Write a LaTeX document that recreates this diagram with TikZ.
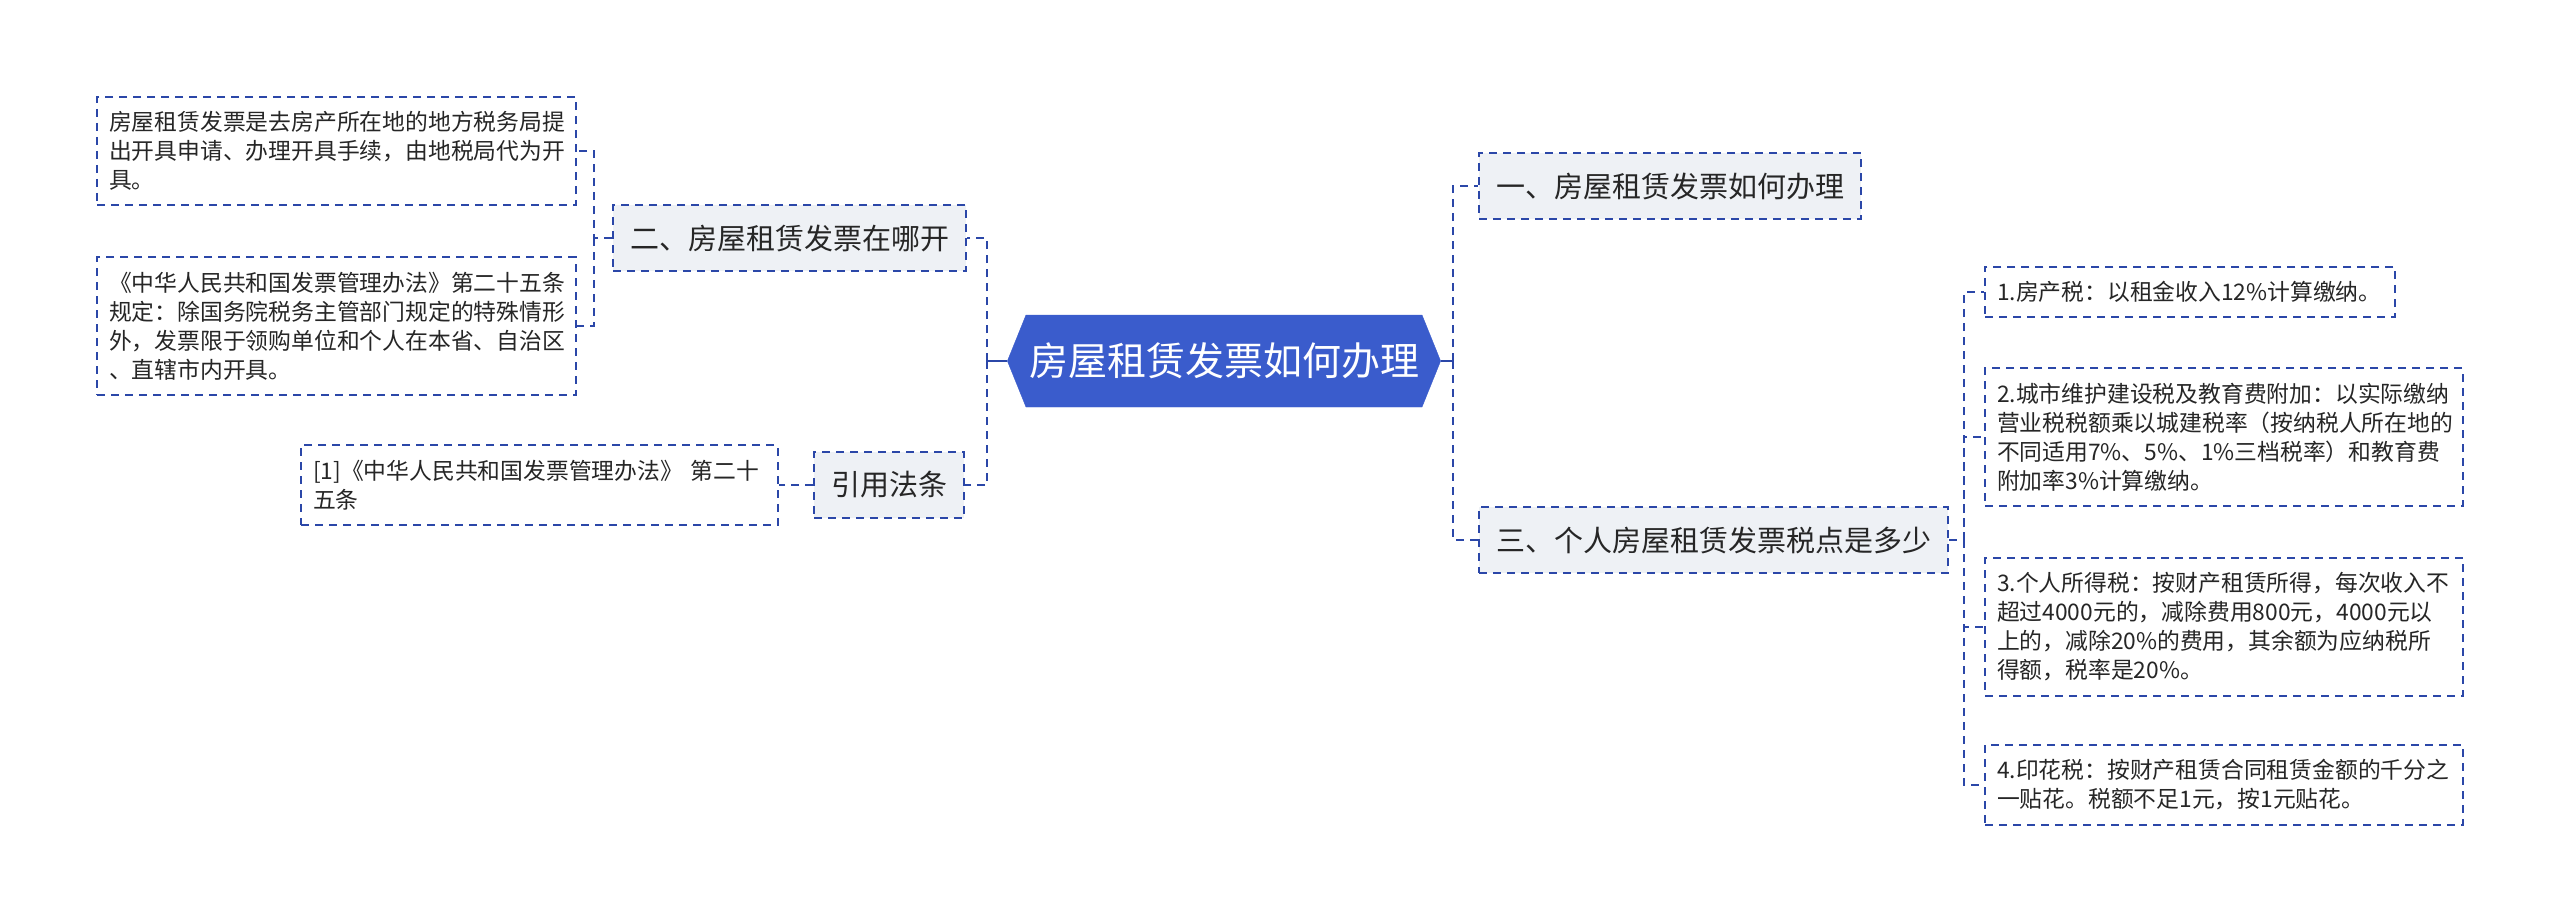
\documentclass[tikz,border=0pt]{standalone}
\usepackage{fontspec}
\setmainfont{Noto Sans CJK SC}
\usepackage{tikz}
\usetikzlibrary{shapes.symbols,positioning,calc}
\definecolor{mmBlue}{HTML}{3A5CCC}
\definecolor{mmLine}{HTML}{2B47A8}
\definecolor{mmGrey}{HTML}{EEF1F5}
\definecolor{mmText}{HTML}{262626}
\tikzset{
  %% dash used everywhere
  mmdash/.style={line width=2pt, dash pattern=on 8pt off 6pt},
  mmRoot/.style={shape=signal, signal to=east and west, signal pointer angle=136,
    draw=mmBlue, fill=mmBlue, minimum height=92pt, inner xsep=3pt,
    font=\fontsize{39}{46}\selectfont, text=white},
  mmTopic/.style={mmdash, draw=mmLine, fill=mmGrey, inner xsep=17pt, inner ysep=19.5pt,
    font=\fontsize{29}{35}\selectfont, text=mmText},
  mmLeaf/.style={mmdash, draw=mmLine, fill=white, inner xsep=12pt, inner ysep=14.5pt,
    font=\fontsize{22.8}{29}\selectfont, align=left, text=mmText},
  %% connectors
  mmlink/.style={mmdash, line width=2.6pt, draw=mmLine},
  mmstub/.style={line width=2.6pt, draw=mmLine},
}
\begin{document}
\begin{tikzpicture}[x=1pt, y=-1pt]
\path[fill=white] (0,0) rectangle (2560,922);
\useasboundingbox (0,0) rectangle (2560,922);

%% Root
\node[mmRoot] (root) at (1224,361) {房屋租赁发票如何办理};

%% Left side
\node[mmTopic, anchor=east] (tWhere) at (967,238) {二、房屋租赁发票在哪开};
\node[mmTopic, anchor=east] (tLaw)   at (965,485) {引用法条};

\node[mmLeaf, anchor=west, text width=455pt] (lWhereA) at (96,151)
  {房屋租赁发票是去房产所在地的地方税务局提\\出开具申请、办理开具手续，由地税局代为开\\具。};
\node[mmLeaf, anchor=west, text width=455pt] (lWhereB) at (96,326)
  {《中华人民共和国发票管理办法》第二十五条\\规定：除国务院税务主管部门规定的特殊情形\\外，发票限于领购单位和个人在本省、自治区\\、直辖市内开具。};
\node[mmLeaf, anchor=west, text width=453pt] (lLaw) at (300,485)
  {[1]《中华人民共和国发票管理办法》 第二十\\五条};

%% Right side
\node[mmTopic, anchor=west] (tHow)  at (1478,186) {一、房屋租赁发票如何办理};
\node[mmTopic, anchor=west] (tRate) at (1478,540) {三、个人房屋租赁发票税点是多少};

\node[mmLeaf, anchor=west, text width=386pt] (rRateA) at (1984,292)
  {1.房产税：以租金收入12\%计算缴纳。};
\node[mmLeaf, anchor=west, text width=454pt] (rRateB) at (1984,437)
  {2.城市维护建设税及教育费附加：以实际缴纳\\营业税税额乘以城建税率（按纳税人所在地的\\不同适用7\%、5\%、1\%三档税率）和教育费\\附加率3\%计算缴纳。};
\node[mmLeaf, anchor=west, text width=454pt] (rRateC) at (1984,627)
  {3.个人所得税：按财产租赁所得，每次收入不\\超过4000元的，减除费用800元，4000元以\\上的，减除20\%的费用，其余额为应纳税所\\得额，税率是20\%。};
\node[mmLeaf, anchor=west, text width=454pt] (rRateD) at (1984,785)
  {4.印花税：按财产租赁合同租赁金额的千分之\\一贴花。税额不足1元，按1元贴花。};

%% Junctions
\coordinate (jL)     at (987,361);
\coordinate (jR)     at (1453,361);
\coordinate (jWhere) at (594,238);
\coordinate (jRate)  at (1964,540);

%% Connectors
\draw[mmstub] (root.west) -- (jL);
\draw[mmstub] (root.east) -- (jR);
\draw[mmlink] (jL) |- (tWhere.east);
\draw[mmlink] (jL) |- (tLaw.east);
\draw[mmlink] (jR) |- (tHow.west);
\draw[mmlink] (jR) |- (tRate.west);

\draw[mmlink] (tWhere.west) -- (jWhere) |- (lWhereA.east);
\draw[mmlink] (jWhere) |- (lWhereB.east);
\draw[mmlink] (tLaw.west) -- (lLaw.east);

\draw[mmlink] (tRate.east) -- (jRate) |- (rRateA.west);
\draw[mmlink] (jRate) |- (rRateB.west);
\draw[mmlink] (jRate) |- (rRateC.west);
\draw[mmlink] (jRate) |- (rRateD.west);

\end{tikzpicture}
\end{document}
